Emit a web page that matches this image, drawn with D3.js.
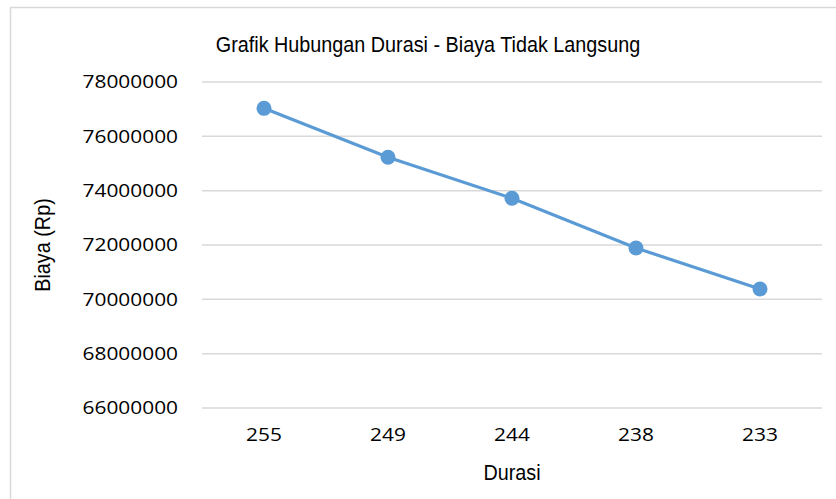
<!DOCTYPE html>
<html>
<head>
<meta charset="utf-8">
<script src="https://cdn.jsdelivr.net/npm/d3@7"></script>
<style>
  body { margin: 0; background: #fff; }
  svg { display: block; }
</style>
</head>
<body>
<div id="container"></div>
<script>
let width = 836;
let height = 499;

// data
let durasi = ["255", "249", "244", "238", "233"];
let biaya = [77030000, 75230000, 73720000, 71890000, 70380000];
let yTicks = [66000000, 68000000, 70000000, 72000000, 74000000, 76000000, 78000000];

let margin = { top: 82, right: 14, bottom: 91, left: 202 };

let svg = d3.select("#container")
  .append("svg")
  .attr("width", width)
  .attr("height", height);

// chart border (runs off the right/bottom edge like the reference)
svg.append("rect")
  .attr("x", 10.5).attr("y", 7.5)
  .attr("width", 840).attr("height", 520)
  .attr("fill", "none")
  .attr("stroke", "#d9d9d9")
  .attr("stroke-width", 1.5);

let x = d3.scaleBand()
  .domain(durasi)
  .range([margin.left, width - margin.right]);

let y = d3.scaleLinear()
  .domain([66000000, 78000000])
  .range([height - margin.bottom, margin.top]);

// gridlines
svg.append("g")
  .selectAll("line")
  .data(yTicks)
  .enter().append("line")
  .attr("x1", margin.left)
  .attr("x2", width - margin.right)
  .attr("y1", d => y(d))
  .attr("y2", d => y(d))
  .attr("stroke", "#d9d9d9")
  .attr("stroke-width", 1.5);

let tickFont = "'Open Sans', 'Noto Sans', sans-serif";
let stretch = 1.16; // reference digits are wider than Open Sans

// y axis labels
let yAxis = svg.append("g")
  .attr("transform", `translate(${margin.left},0)`)
  .call(d3.axisLeft(y).tickValues(yTicks).tickFormat(d3.format("d")).tickSize(0));
yAxis.select(".domain").remove();
yAxis.selectAll("text")
  .attr("x", -24 / stretch)
  .attr("transform", `scale(${stretch},1)`)
  .style("font-family", tickFont)
  .style("font-size", "18px")
  .attr("fill", "#000");

// x axis labels
let xAxis = svg.append("g")
  .attr("transform", `translate(0,${height - margin.bottom})`)
  .call(d3.axisBottom(x).tickSize(0).tickPadding(20));
xAxis.select(".domain").remove();
xAxis.selectAll("text")
  .attr("transform", `scale(${stretch},1)`)
  .style("font-family", tickFont)
  .style("font-size", "18px")
  .attr("fill", "#000");

// line
let line = d3.line()
  .x((d, i) => x(durasi[i]) + x.bandwidth() / 2)
  .y(d => y(d));

svg.append("path")
  .datum(biaya)
  .attr("d", line)
  .attr("fill", "none")
  .attr("stroke", "#5b9bd5")
  .attr("stroke-width", 3.2);

svg.selectAll("circle")
  .data(biaya)
  .enter().append("circle")
  .attr("cx", (d, i) => x(durasi[i]) + x.bandwidth() / 2)
  .attr("cy", d => y(d))
  .attr("r", 7.5)
  .attr("fill", "#5b9bd5");

// titles, condensed like the reference
let narrow = "'Liberation Sans', Arial, sans-serif";

svg.append("text")
  .attr("transform", "translate(428,52) scale(0.9,1)")
  .attr("text-anchor", "middle")
  .style("font-family", narrow)
  .style("font-size", "22px")
  .text("Grafik Hubungan Durasi - Biaya Tidak Langsung");

svg.append("text")
  .attr("transform", "translate(512,480) scale(0.9,1)")
  .attr("text-anchor", "middle")
  .style("font-family", narrow)
  .style("font-size", "22px")
  .text("Durasi");

svg.append("text")
  .attr("transform", "translate(50,245) rotate(-90) scale(0.9,1)")
  .attr("text-anchor", "middle")
  .style("font-family", narrow)
  .style("font-size", "22px")
  .text("Biaya (Rp)");
</script>
</body>
</html>
